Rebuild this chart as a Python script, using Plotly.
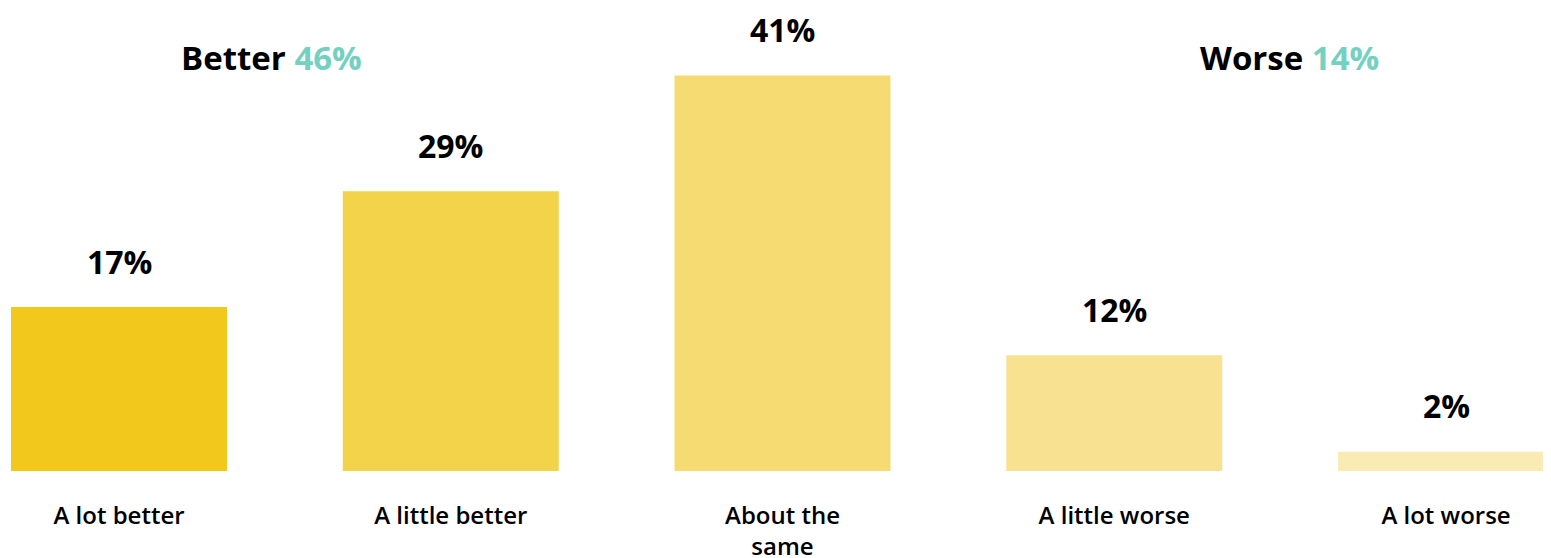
import plotly.graph_objects as go

categories = ["A lot better", "A little better", "About the<br>same", "A little worse", "A lot worse"]
values = [17, 29, 41, 12, 2]
value_labels = ["17%", "29%", "41%", "12%", "2%"]
bar_colors = ["#F3C81C", "#F3D34A", "#F6DB72", "#F8E292", "#FAEBB5"]
group_names = ["Better", "Worse"]
group_values = ["46%", "14%"]

FONT = "'Open Sans', 'Noto Sans', sans-serif"
x = list(range(len(categories)))

fig = go.Figure(go.Bar(
    x=x, y=values, marker=dict(color=bar_colors, line=dict(width=0)),
    hoverinfo="skip",
))

for xi, v, t in zip(x, values, value_labels):
    fig.add_annotation(x=xi, y=v, text=f"<b>{t}</b>", showarrow=False,
                       yanchor="middle", yshift=46,
                       font=dict(family=FONT, size=32, color="#000000"))

group_x = [0.5, 3.5]
group_shift = [-13, 9]
for gx, gs, name, gv in zip(group_x, group_shift, group_names, group_values):
    fig.add_annotation(x=gx, y=1, yref="paper", yshift=-49, xshift=gs,
                       text=f"<b>{name} <span style='color:#74D1C1'>{gv}</span></b>",
                       showarrow=False, yanchor="middle",
                       font=dict(family=FONT, size=33, color="#000000"))

fig.update_layout(
    width=1551, height=558,
    margin=dict(l=0, r=0, t=0, b=95),
    paper_bgcolor="white", plot_bgcolor="white",
    showlegend=False,
    bargap=0.349,
    xaxis=dict(range=[-0.3346, 4.3405], tickmode="array", tickvals=x, ticktext=categories,
               showgrid=False, zeroline=False, showline=False, ticks="",
               ticklabelstandoff=28,
               tickfont=dict(family=FONT, size=24, weight=600, color="#000000")),
    yaxis=dict(range=[0, 48.0], visible=False, showgrid=False, zeroline=False),
)

fig.write_html("out.html")
